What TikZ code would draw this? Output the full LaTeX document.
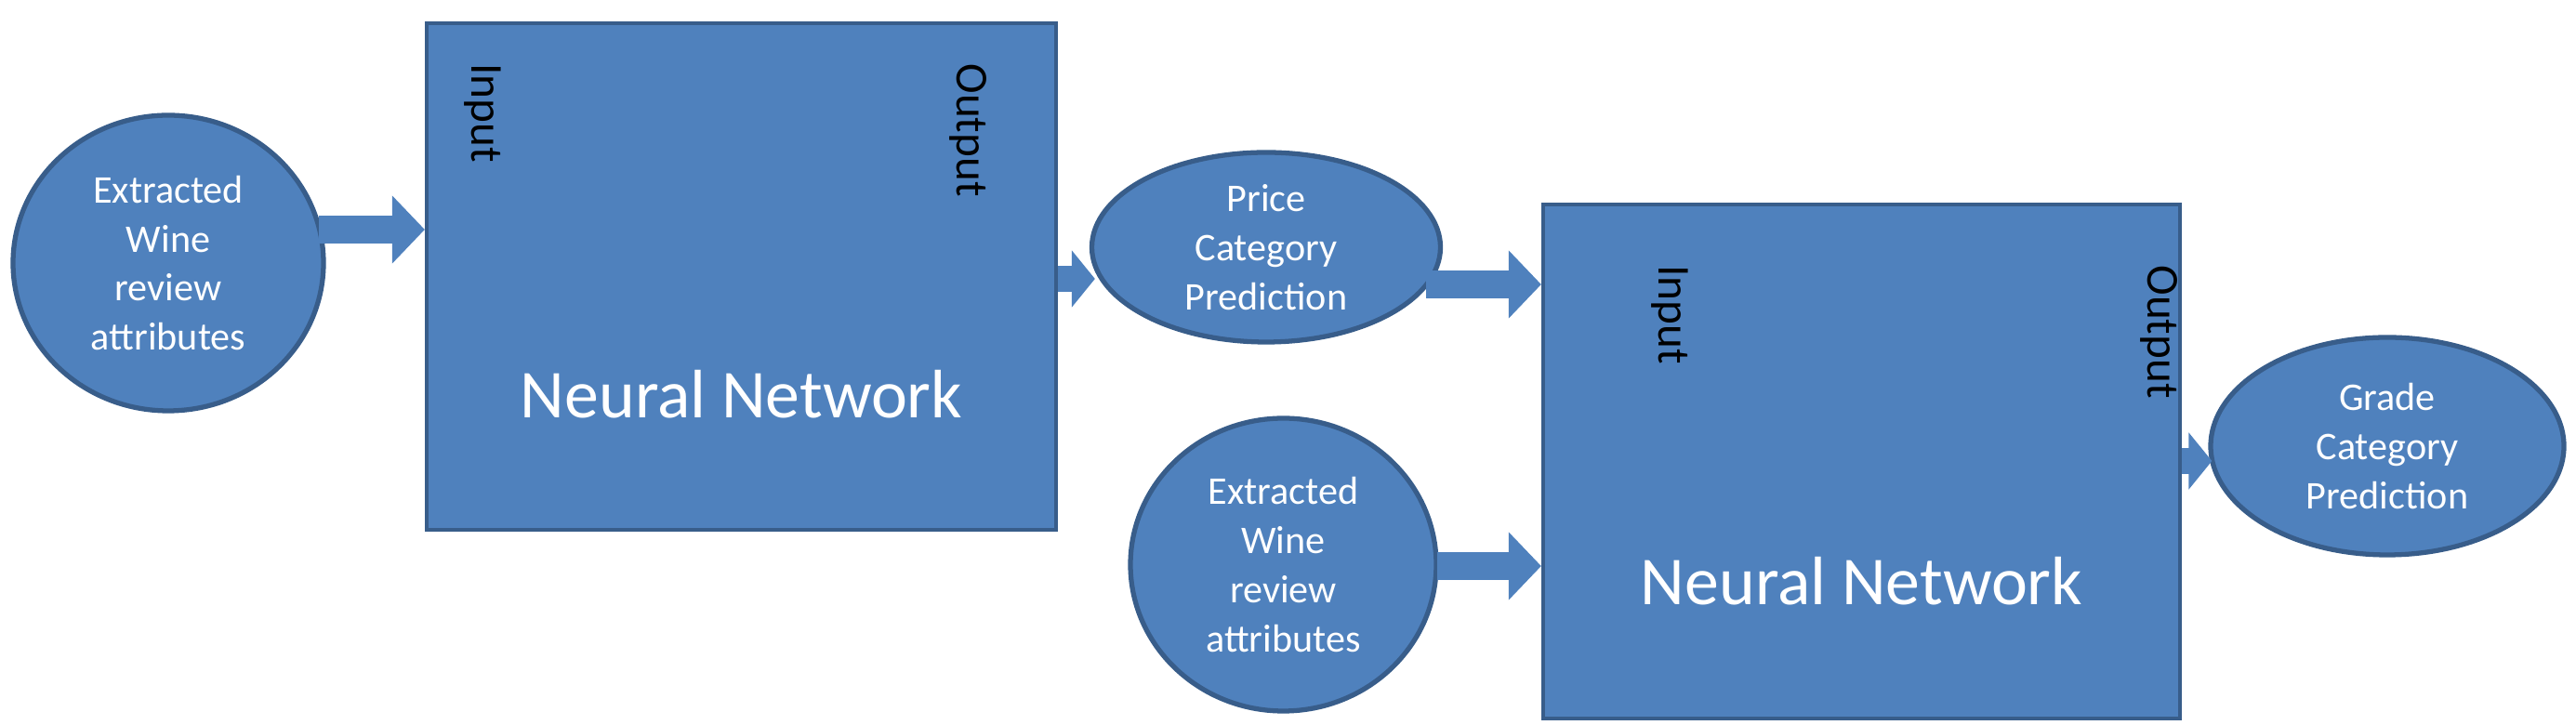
\documentclass[tikz,border=0pt]{standalone}
\usepackage{fontspec}
\setmainfont{Carlito}
\usetikzlibrary{shapes.geometric,arrows.meta,calc}
\definecolor{boxblue}{RGB}{79,129,189}
\definecolor{edgeblue}{RGB}{56,93,138}
\tikzset{
	net/.style={draw=edgeblue,line width=1.2pt,fill=boxblue,rectangle,inner sep=0pt},
	blob/.style={draw=edgeblue,line width=1.5pt,fill=boxblue,ellipse,inner sep=0pt,
		text=white,align=center,font=\fontsize{12}{15}\selectfont},
	port/.style={rotate=-90,anchor=west,inner sep=0pt,font=\fontsize{14}{16}\selectfont},
	big/.style={text=white,font=\fontsize{21}{24}\selectfont},
	flow/.style={boxblue,line width=0.3cm,-{Triangle[length=0.35cm,width=0.71cm]}},
	shortflow/.style={boxblue,line width=0.28cm,-{Triangle[length=0.25cm,width=0.6cm]}}
}
\begin{document}
\begin{tikzpicture}
	\useasboundingbox (0,0) rectangle (27.71,7.8);
	% first stage
	\node[blob,minimum width=3.34cm,minimum height=3.18cm] (wine1) at (1.81,4.97) {Extracted\\Wine\\review\\attributes};
	\node[net,minimum width=6.77cm,minimum height=5.45cm] (nn1) at (7.975,4.825) {};
	\node[port] (in1) at ($(nn1.north west)+(0.62,-0.45)$) {Input};
	\node[port] (out1) at ($(nn1.north east)+(-0.97,-0.45)$) {Output};
	\node[big] (lab1) at ($(nn1.center)+(0,-1.27)$) {Neural Network};
	\node[blob,minimum width=3.75cm,minimum height=2.04cm] (price) at (13.62,5.14) {Price\\Category\\Prediction};

	% second stage
	\node[net,minimum width=6.85cm,minimum height=5.53cm] (nn2) at (20.025,2.835) {};
	\node[port] (in2) at ($(nn2.north west)+(1.38,-0.67)$) {Input};
	\node[port] (out2) at ($(nn2.north east)+(-0.25,-0.67)$) {Output};
	\node[big] (lab2) at ($(nn2.center)+(0,-1.29)$) {Neural Network};
	\node[blob,minimum width=3.29cm,minimum height=3.15cm] (wine2) at (13.805,1.725) {Extracted\\Wine\\review\\attributes};
	\node[blob,minimum width=3.80cm,minimum height=2.34cm] (grade) at (25.68,3.0) {Grade\\Category\\Prediction};

	% arrows
	\draw[flow] ($(wine1.east |- 0,5.33)+(-0.08,0)$) -- (nn1.west |- 0,5.33);
	\draw[shortflow] (nn1.east |- 0,4.80) -- ($(price.west |- 0,4.80)+(0.06,0)$);
	\draw[flow] ($(price.east |- 0,4.74)+(-0.18,0)$) -- (nn2.west |- 0,4.74);
	\draw[flow] ($(wine2.east |- 0,1.71)+(-0.02,0)$) -- (nn2.west |- 0,1.71);
	\draw[shortflow] (nn2.east |- 0,2.84) -- ($(grade.west |- 0,2.84)+(0.04,0)$);
\end{tikzpicture}
\end{document}
